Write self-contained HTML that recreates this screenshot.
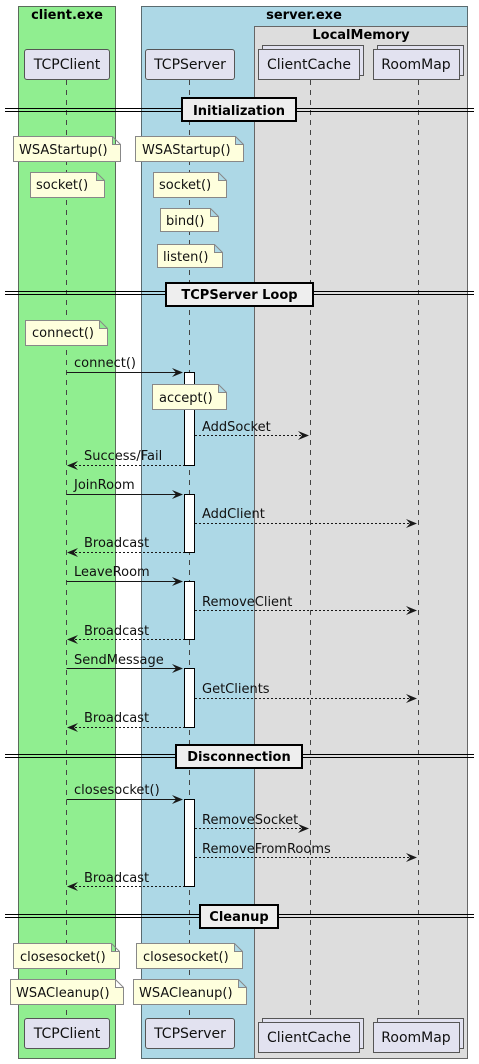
<!DOCTYPE html>
<html><head><meta charset="utf-8"><style>
html,body{margin:0;padding:0;background:#fff;}
svg{display:block;font-family:"DejaVu Sans","Liberation Sans",sans-serif;}
</style></head><body>
<svg width="479" height="1064" viewBox="0 0 479 1064" xmlns="http://www.w3.org/2000/svg">
<defs>
<polygon id="ar" points="0,0 -11,-4.5 -7,0 -11,4.5" fill="#181818"/>
<polygon id="al" points="0,0 11,-4.5 7,0 11,4.5" fill="#181818"/>
</defs>
<rect x="18.5" y="6.5" width="97" height="1052" fill="#90EE90" stroke="#5a6b5a"/>
<text x="67" y="19" font-size="13" font-weight="bold" text-anchor="middle">client.exe</text>
<rect x="141.5" y="6.5" width="326" height="1052" fill="#ADD8E6" stroke="#5a6b70"/>
<text x="304" y="19" font-size="13" font-weight="bold" text-anchor="middle">server.exe</text>
<rect x="254.5" y="26.5" width="213" height="1032" fill="#DDDDDD" stroke="#666"/>
<text x="361" y="39" font-size="13" font-weight="bold" text-anchor="middle">LocalMemory</text>
<g stroke="#444" stroke-dasharray="5,5" stroke-width="1">
<line x1="66.5" y1="80" x2="66.5" y2="1018"/>
<line x1="189.5" y1="80" x2="189.5" y2="1018"/>
<line x1="310.5" y1="80" x2="310.5" y2="1018"/>
<line x1="418.5" y1="80" x2="418.5" y2="1018"/>
</g>
<g stroke="#555" fill="#E2E2F0" font-size="14">
<rect x="24.5" y="49.5" width="85" height="30" rx="2.5"/>
<rect x="145.5" y="49.5" width="89" height="30" rx="2.5"/>
<rect x="262.5" y="45.5" width="101" height="30"/>
<rect x="258.5" y="49.5" width="101" height="30"/>
<rect x="377.5" y="45.5" width="86" height="30"/>
<rect x="373.5" y="49.5" width="86" height="30"/>
<rect x="24.5" y="1018.5" width="85" height="30" rx="2.5"/>
<rect x="145.5" y="1018.5" width="89" height="30" rx="2.5"/>
<rect x="262.5" y="1018.5" width="101" height="30"/>
<rect x="258.5" y="1022.5" width="101" height="30"/>
<rect x="377.5" y="1018.5" width="86" height="30"/>
<rect x="373.5" y="1022.5" width="86" height="30"/>
</g>
<g font-size="14" fill="#111" text-anchor="middle">
<text x="67" y="69">TCPClient</text>
<text x="190" y="69">TCPServer</text>
<text x="309" y="69">ClientCache</text>
<text x="416" y="69">RoomMap</text>
<text x="67" y="1038">TCPClient</text>
<text x="190" y="1038">TCPServer</text>
<text x="309" y="1042">ClientCache</text>
<text x="416" y="1042">RoomMap</text>
</g>
<g stroke="#000" stroke-width="1">
<line x1="5" y1="108.5" x2="474" y2="108.5"/><line x1="5" y1="111.5" x2="474" y2="111.5"/>
<line x1="5" y1="291.5" x2="474" y2="291.5"/><line x1="5" y1="294.5" x2="474" y2="294.5"/>
<line x1="5" y1="754.5" x2="474" y2="754.5"/><line x1="5" y1="757.5" x2="474" y2="757.5"/>
<line x1="5" y1="914.5" x2="474" y2="914.5"/><line x1="5" y1="917.5" x2="474" y2="917.5"/>
</g>
<g fill="#EEEEEE" stroke="#000" stroke-width="2">
<rect x="182" y="98" width="114" height="23"/>
<rect x="166" y="283" width="147" height="23"/>
<rect x="176" y="745" width="126" height="23"/>
<rect x="200" y="905" width="78" height="23"/>
</g>
<g font-size="13" font-weight="bold" text-anchor="middle">
<text x="239" y="115">Initialization</text>
<text x="239.5" y="299">TCPServer Loop</text>
<text x="239" y="761">Disconnection</text>
<text x="239" y="921">Cleanup</text>
</g>
<g fill="#fff" stroke="#000">
<rect x="184.5" y="372.5" width="10" height="93"/>
<rect x="184.5" y="494.5" width="10" height="58"/>
<rect x="184.5" y="581.5" width="10" height="58"/>
<rect x="184.5" y="668.5" width="10" height="59"/>
<rect x="184.5" y="799.5" width="10" height="87"/>
</g>
<g fill="#FEFFDD" stroke="#888">
<path d="M13.5,136.5 H112.5 L120.5,144.5 V161.5 H13.5 Z M112.5,136.5 V144.5 H120.5"/>
<path d="M135.5,136.5 H235.5 L243.5,144.5 V161.5 H135.5 Z M235.5,136.5 V144.5 H243.5"/>
<path d="M30.5,172.5 H96.5 L104.5,180.5 V197.5 H30.5 Z M96.5,172.5 V180.5 H104.5"/>
<path d="M153.5,172.5 H218.5 L226.5,180.5 V197.5 H153.5 Z M218.5,172.5 V180.5 H226.5"/>
<path d="M160.5,208.5 H210.5 L218.5,216.5 V231.5 H160.5 Z M210.5,208.5 V216.5 H218.5"/>
<path d="M157.5,244.5 H214.5 L222.5,252.5 V267.5 H157.5 Z M214.5,244.5 V252.5 H222.5"/>
<path d="M25.5,320.5 H99.5 L107.5,328.5 V345.5 H25.5 Z M99.5,320.5 V328.5 H107.5"/>
<path d="M152.5,384.5 H218.5 L226.5,392.5 V409.5 H152.5 Z M218.5,384.5 V392.5 H226.5"/>
<path d="M13.5,943.5 H111.5 L119.5,951.5 V968.5 H13.5 Z M111.5,943.5 V951.5 H119.5"/>
<path d="M136.5,943.5 H234.5 L242.5,951.5 V968.5 H136.5 Z M234.5,943.5 V951.5 H242.5"/>
<path d="M10.5,979.5 H115.5 L123.5,987.5 V1004.5 H10.5 Z M115.5,979.5 V987.5 H123.5"/>
<path d="M133.5,979.5 H238.5 L246.5,987.5 V1004.5 H133.5 Z M238.5,979.5 V987.5 H246.5"/>
</g>
<g font-size="13" fill="#111">
<text x="19" y="154">WSAStartup()</text>
<text x="142" y="154">WSAStartup()</text>
<text x="36" y="189">socket()</text>
<text x="159" y="189">socket()</text>
<text x="166" y="225">bind()</text>
<text x="163" y="261">listen()</text>
<text x="32" y="337">connect()</text>
<text x="159" y="402">accept()</text>
<text x="20" y="961">closesocket()</text>
<text x="143" y="961">closesocket()</text>
<text x="16" y="997">WSACleanup()</text>
<text x="139" y="997">WSACleanup()</text>
</g>
<g stroke="#181818" stroke-width="1" fill="none">
<line x1="66.5" y1="372.5" x2="180" y2="372.5"/>
<line x1="66.5" y1="494.5" x2="180" y2="494.5"/>
<line x1="66.5" y1="581.5" x2="180" y2="581.5"/>
<line x1="66.5" y1="668.5" x2="180" y2="668.5"/>
<line x1="66.5" y1="799.5" x2="180" y2="799.5"/>
<g stroke-dasharray="2,2">
<line x1="195" y1="435.5" x2="306" y2="435.5"/>
<line x1="71" y1="465.5" x2="184" y2="465.5"/>
<line x1="195" y1="523.5" x2="414" y2="523.5"/>
<line x1="71" y1="552.5" x2="184" y2="552.5"/>
<line x1="195" y1="610.5" x2="414" y2="610.5"/>
<line x1="71" y1="639.5" x2="184" y2="639.5"/>
<line x1="195" y1="698.5" x2="414" y2="698.5"/>
<line x1="71" y1="727.5" x2="184" y2="727.5"/>
<line x1="195" y1="828.5" x2="306" y2="828.5"/>
<line x1="195" y1="857.5" x2="414" y2="857.5"/>
<line x1="71" y1="886.5" x2="184" y2="886.5"/>
</g>
</g>
<use href="#ar" x="183" y="372.5"/>
<use href="#ar" x="183" y="494.5"/>
<use href="#ar" x="183" y="581.5"/>
<use href="#ar" x="183" y="668.5"/>
<use href="#ar" x="183" y="799.5"/>
<use href="#ar" x="309" y="435.5"/>
<use href="#ar" x="309" y="828.5"/>
<use href="#ar" x="417" y="523.5"/>
<use href="#ar" x="417" y="610.5"/>
<use href="#ar" x="417" y="698.5"/>
<use href="#ar" x="417" y="857.5"/>
<use href="#al" x="67" y="465.5"/>
<use href="#al" x="67" y="552.5"/>
<use href="#al" x="67" y="639.5"/>
<use href="#al" x="67" y="727.5"/>
<use href="#al" x="67" y="886.5"/>
<g font-size="13" fill="#111">
<text x="74" y="367">connect()</text>
<text x="202" y="431">AddSocket</text>
<text x="84" y="460">Success/Fail</text>
<text x="74" y="489">JoinRoom</text>
<text x="202" y="518">AddClient</text>
<text x="84" y="547">Broadcast</text>
<text x="74" y="576">LeaveRoom</text>
<text x="202" y="606">RemoveClient</text>
<text x="84" y="635">Broadcast</text>
<text x="74" y="664">SendMessage</text>
<text x="202" y="693">GetClients</text>
<text x="84" y="722">Broadcast</text>
<text x="74" y="794">closesocket()</text>
<text x="202" y="824">RemoveSocket</text>
<text x="202" y="853">RemoveFromRooms</text>
<text x="84" y="882">Broadcast</text>
</g>
</svg>
</body></html>
